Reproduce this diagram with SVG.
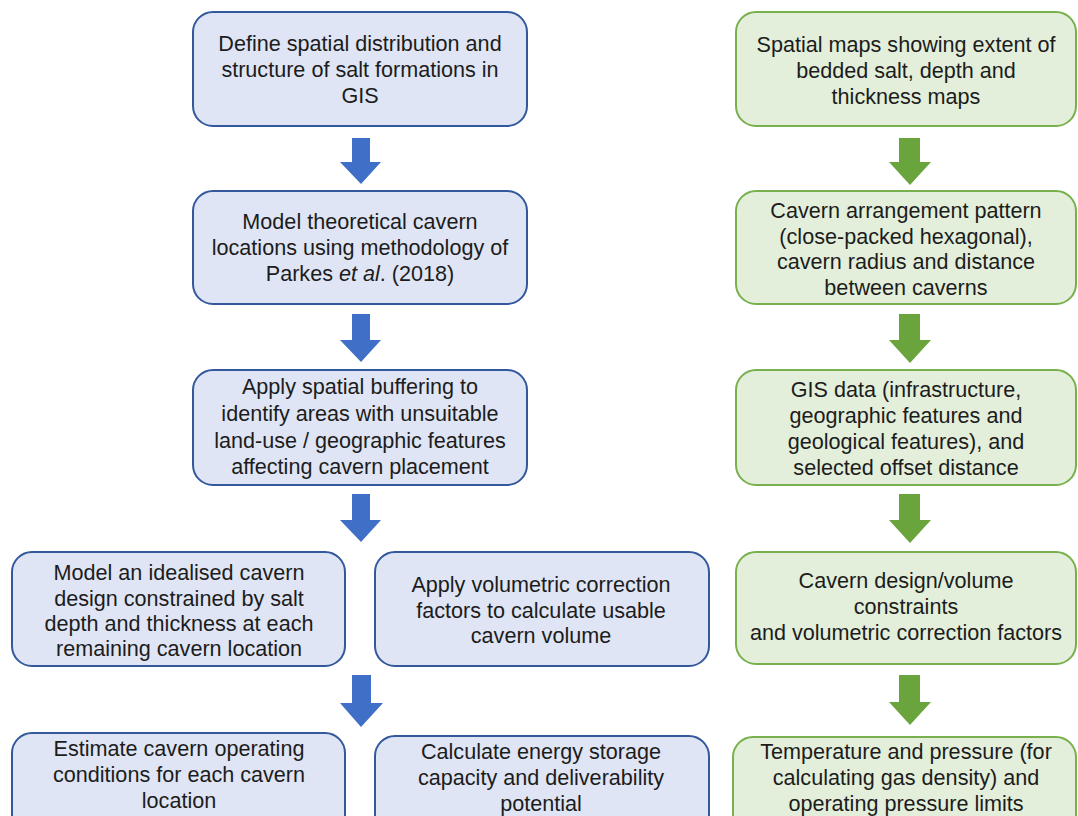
<svg xmlns="http://www.w3.org/2000/svg" width="1078" height="816" viewBox="0 0 1078 816">
<style>
.b{fill:#dfe5f4;stroke:#34589c;stroke-width:2}
.g{fill:#e3efda;stroke:#78b04e;stroke-width:2}
.ba{fill:#3f6fc6}
.ga{fill:#69a53c}
text{font-family:"Liberation Sans",Arial,sans-serif;font-size:21.6px;fill:#1c1c1c;text-anchor:middle}
</style>
<rect width="1078" height="816" fill="#ffffff"/>
<g id="connectors">
<path class="ba" d="M352,138H370V162H381L361,184L340,162H352Z"/>
<path class="ba" d="M352,314H370V340H381L361,362L340,340H352Z"/>
<path class="ba" d="M352,494H370V520H381L361,542L340,520H352Z"/>
<path class="ba" d="M352,675H371V703H383L361,727L340,703H352Z"/>
<path class="ga" d="M899,138H920V162H931L910,185L889,162H899Z"/>
<path class="ga" d="M899,314H920V340H931L910,363L889,340H899Z"/>
<path class="ga" d="M899,494H920V520H931L910,543L889,520H899Z"/>
<path class="ga" d="M899,675H920V702H931L910,725L889,702H899Z"/>
</g>
<g id="n1"><rect class="b" x="193" y="12" width="334" height="114" rx="20"/>
<text x="360" y="51">Define spatial distribution and</text><text x="360" y="77">structure of salt formations in</text><text x="360" y="103">GIS</text></g>
<g id="n2"><rect class="b" x="193" y="191" width="334" height="113" rx="20"/>
<text x="360" y="229">Model theoretical cavern</text><text x="360" y="255">locations using methodology of</text><text x="360" y="281">Parkes <tspan font-style="italic">et al</tspan>. (2018)</text></g>
<g id="n3"><rect class="b" x="193" y="370" width="334" height="115" rx="20"/>
<text x="360" y="394">Apply spatial buffering to</text><text x="360" y="421">identify areas with unsuitable</text><text x="360" y="448">land-use / geographic features</text><text x="360" y="474">affecting cavern placement</text></g>
<g id="n4a"><rect class="b" x="12" y="552" width="333" height="114" rx="20"/>
<text x="179" y="580">Model an idealised cavern</text><text x="179" y="606">design constrained by salt</text><text x="179" y="631">depth and thickness at each</text><text x="179" y="656">remaining cavern location</text></g>
<g id="n4b"><rect class="b" x="375" y="552" width="334" height="114" rx="20"/>
<text x="541" y="592">Apply volumetric correction</text><text x="541" y="618">factors to calculate usable</text><text x="541" y="643">cavern volume</text></g>
<g id="n5a"><rect class="b" x="12" y="733" width="333" height="110" rx="20"/>
<text x="179" y="756">Estimate cavern operating</text><text x="179" y="782">conditions for each cavern</text><text x="179" y="808">location</text></g>
<g id="n5b"><rect class="b" x="375" y="736" width="334" height="110" rx="20"/>
<text x="541" y="759">Calculate energy storage</text><text x="541" y="785">capacity and deliverability</text><text x="541" y="811">potential</text></g>
<g id="r1"><rect class="g" x="736" y="12" width="340" height="114" rx="20"/>
<text x="906" y="52">Spatial maps showing extent of</text><text x="906" y="78">bedded salt, depth and</text><text x="906" y="104">thickness maps</text></g>
<g id="r2"><rect class="g" x="736" y="191" width="340" height="113" rx="20"/>
<text x="906" y="218">Cavern arrangement pattern</text><text x="906" y="244">(close-packed hexagonal),</text><text x="906" y="269">cavern radius and distance</text><text x="906" y="295">between caverns</text></g>
<g id="r3"><rect class="g" x="736" y="370" width="340" height="115" rx="20"/>
<text x="906" y="397">GIS data (infrastructure,</text><text x="906" y="423">geographic features and</text><text x="906" y="449">geological features), and</text><text x="906" y="475">selected offset distance</text></g>
<g id="r4"><rect class="g" x="736" y="552" width="340" height="112" rx="20"/>
<text x="906" y="588">Cavern design/volume</text><text x="906" y="614">constraints</text><text x="906" y="640">and volumetric correction factors</text></g>
<g id="r5"><rect class="g" x="733" y="737" width="343" height="110" rx="20"/>
<text x="906" y="759">Temperature and pressure (for</text><text x="906" y="785">calculating gas density) and</text><text x="906" y="811">operating pressure limits</text></g>
</svg>
